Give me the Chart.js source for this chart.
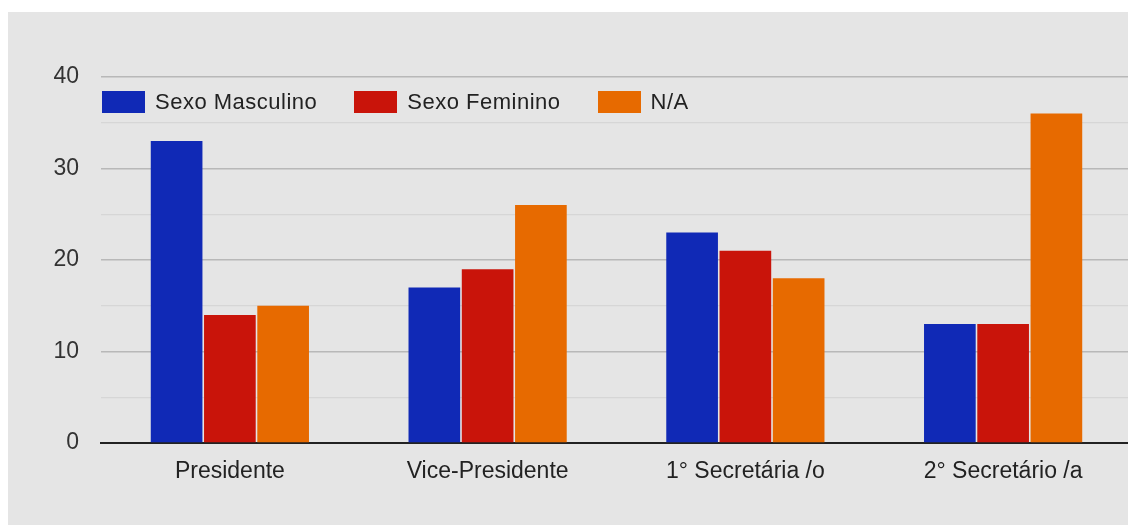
<!DOCTYPE html>
<html lang="pt">
<head>
<meta charset="utf-8">
<script src="https://cdn.jsdelivr.net/npm/chart.js@4/dist/chart.umd.min.js"></script>
<style>
  html, body { margin: 0; padding: 0; background: #fff; overflow: hidden; }
  #quadro {
    position: absolute; left: 8px; top: 12px;
    width: 1124px; height: 513px;
    background: #e5e5e5;
  }
  #legenda {
    position: absolute; left: 94px; top: 77px;
    display: flex; align-items: center;
    font-family: "Liberation Sans", Arial, sans-serif; font-size: 22px; letter-spacing: 0.5px; color: #222;
  }
  #legenda .item { display: flex; align-items: center; margin-right: 37px; }
  #legenda .caixa { width: 43px; height: 22px; margin-right: 10px; }
</style>
</head>
<body>
<div id="quadro">
  <canvas id="grafico" width="1124" height="513"></canvas>
  <div id="legenda"></div>
</div>
<script>
// Cargos e contagem por sexo
const cargos = ["Presidente", "Vice-Presidente", "1° Secretária /o", "2° Secretário /a"];
const series = ["Sexo Masculino", "Sexo Feminino", "N/A"];
const masculino = [33, 17, 23, 13];
const feminino = [14, 19, 21, 13];
const naoInformado = [15, 26, 18, 36];
const cores = ["#1029b6", "#c9140a", "#e76a00"];
const ticksY = [0, 10, 20, 30, 40];

(function () {
  "use strict";

  const valores = [masculino, feminino, naoInformado];
  const fonte = { family: "'Liberation Sans', Arial, sans-serif", size: 23 };

  // legenda desenhada por cima da área do gráfico
  const leg = document.getElementById("legenda");
  leg.innerHTML = series
    .map((s, i) => `<div class="item"><span class="caixa" style="background:${cores[i]}"></span>${s}</div>`)
    .join("");

  new Chart(document.getElementById("grafico"), {
    type: "bar",
    data: {
      labels: cargos,
      datasets: series.map((s, i) => ({
        label: s,
        data: valores[i],
        backgroundColor: cores[i],
        borderWidth: 0,
        barPercentage: 0.97,
        categoryPercentage: 0.62,
      })),
    },
    options: {
      responsive: false,
      animation: false,
      layout: { padding: { top: 65, right: 0, left: 0, bottom: 0 } },
      plugins: { legend: { display: false }, tooltip: { enabled: false } },
      scales: {
        x: {
          grid: { display: false },
          border: { display: true, color: "#222", width: 2 },
          ticks: { color: "#222", font: fonte, padding: 7, maxRotation: 0 },
          afterFit: (s) => { s.height = 82; },
        },
        y: {
          min: 0,
          max: 40,
          border: { display: false },
          ticks: {
            stepSize: 5,
            color: "#333",
            font: fonte,
            padding: 22,
            callback: (v) => (ticksY.includes(v) ? v : ""),
          },
          grid: {
            drawTicks: false,
            color: (c) => (c.tick && c.tick.value % 10 === 0 ? "#b8b8b8" : "#d6d6d6"),
            lineWidth: (c) => (c.tick && c.tick.value % 10 === 0 ? 1.6 : 1.2),
          },
          afterFit: (s) => { s.width = 93; },
        },
      },
    },
  });
})();
</script>
</body>
</html>
